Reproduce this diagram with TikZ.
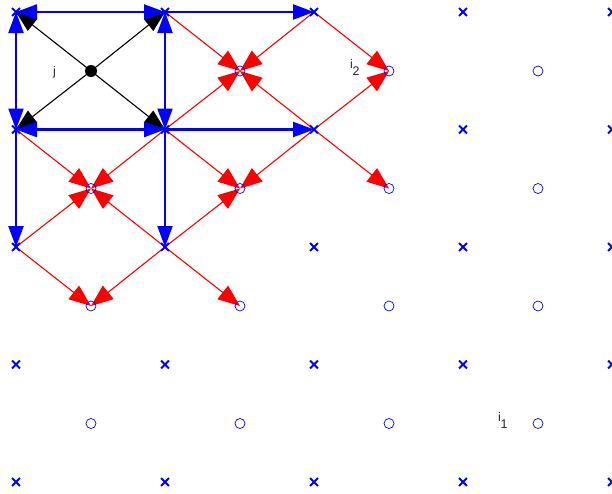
\documentclass[tikz,border=0pt]{standalone}
\usepackage{fontspec}
\setsansfont{Liberation Sans}
\usetikzlibrary{arrows.meta,shapes.misc,backgrounds}
\tikzset{
  gridpt/.style={cross out, draw=blue, line width=1.8pt, minimum size=6pt, inner sep=0pt},
  cellpt/.style={circle, draw=blue, line width=0.7pt, minimum size=10pt, inner sep=0pt},
  centerpt/.style={circle, fill=black, minimum size=12pt, inner sep=0pt},
  edgearrow/.style={-{Triangle[length=21pt,width=15pt]}, line width=2.2pt, draw=blue},
  edgeboth/.style={{Triangle[length=21pt,width=15pt]}-{Triangle[length=21pt,width=15pt]}, line width=2.2pt, draw=blue},
  fluxarrow/.style={-{Triangle[length=22pt,width=17pt]}, line width=1.1pt, draw=red},
  cornerarrow/.style={-{Triangle[length=21pt,width=15pt]}, line width=1.1pt, draw=black},
  lbl/.style={font=\sffamily\fontsize{12.5}{14}\selectfont, text=black!85, anchor=base west, inner sep=0pt}
}
\newcommand{\lowsub}[1]{\kern-0.3pt\raisebox{-7pt}{#1}}

\begin{document}
\begin{tikzpicture}[x=1pt,y=-1pt]
\useasboundingbox (0,0) rectangle (612,493);
\clip (0,0) rectangle (612,493);
% grid points and cell centres
\foreach \i in {0,...,4}
  \foreach \j in {0,...,4}
    \node[gridpt] (x-\i-\j) at ({16+149*\i},{12+117.5*\j}) {};
\foreach \i in {0,...,3}
  \foreach \j in {0,...,3}
    \node[cellpt] (c-\i-\j) at ({91+149*\i},{71+117.5*\j}) {};
\node[centerpt] (src) at (c-0-0) {};
% labels
\node[lbl] (jlab) at (53,75) {j};
\node[lbl] (i2lab) at (350,68) {i\lowsub{2}};
\node[lbl] (i1lab) at (498,421) {i\lowsub{1}};
\begin{scope}[on background layer]
% cell centre to corners
\draw[cornerarrow] (src.center) -- (x-0-0.center);
\draw[cornerarrow] (src.center) -- (x-1-0.center);
\draw[cornerarrow] (src.center) -- (x-0-1.center);
\draw[cornerarrow] (src.center) -- (x-1-1.center);
% edges
\draw[edgeboth] (x-0-0.center) -- (x-1-0.center);
\draw[edgeboth] (x-0-1.center) -- (x-1-1.center);
\draw[edgeboth] (x-0-0.center) -- (x-0-1.center);
\draw[edgeboth] (x-1-0.center) -- (x-1-1.center);
\draw[edgearrow] (x-1-0.center) -- (x-2-0.center);
\draw[edgearrow] (x-1-1.center) -- (x-2-1.center);
\draw[edgearrow] (x-0-1.center) -- (x-0-2.center);
\draw[edgearrow] (x-1-1.center) -- (x-1-2.center);
% corners to cell centres
\draw[fluxarrow] (x-1-0.center) -- (c-1-0.center);
\draw[fluxarrow] (x-2-0.center) -- (c-1-0.center);
\draw[fluxarrow] (x-1-1.center) -- (c-1-0.center);
\draw[fluxarrow] (x-2-1.center) -- (c-1-0.center);
\draw[fluxarrow] (x-2-0.center) -- (c-2-0.center);
\draw[fluxarrow] (x-2-1.center) -- (c-2-0.center);
\draw[fluxarrow] (x-0-1.center) -- (c-0-1.center);
\draw[fluxarrow] (x-1-1.center) -- (c-0-1.center);
\draw[fluxarrow] (x-0-2.center) -- (c-0-1.center);
\draw[fluxarrow] (x-1-2.center) -- (c-0-1.center);
\draw[fluxarrow] (x-1-1.center) -- (c-1-1.center);
\draw[fluxarrow] (x-2-1.center) -- (c-1-1.center);
\draw[fluxarrow] (x-1-2.center) -- (c-1-1.center);
\draw[fluxarrow] (x-2-1.center) -- (c-2-1.center);
\draw[fluxarrow] (x-0-2.center) -- (c-0-2.center);
\draw[fluxarrow] (x-1-2.center) -- (c-0-2.center);
\draw[fluxarrow] (x-1-2.center) -- (c-1-2.center);
\end{scope}
\end{tikzpicture}
\end{document}
